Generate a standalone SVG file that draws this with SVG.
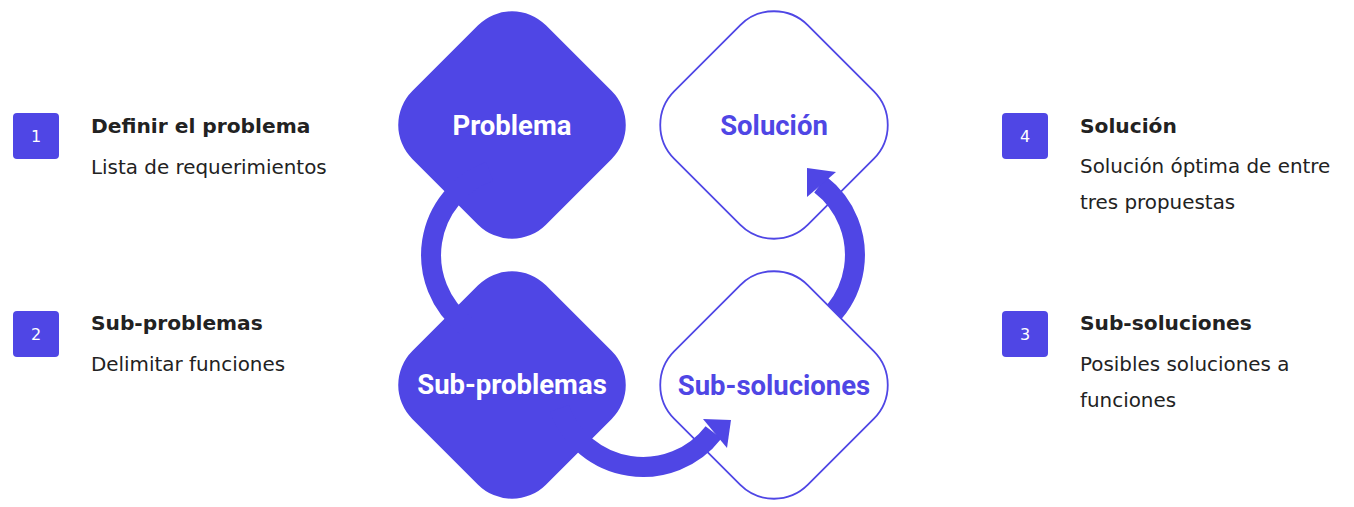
<svg xmlns="http://www.w3.org/2000/svg" width="1354" height="507" viewBox="0 0 1354 507">
  <style>
    .fill { fill: #4f46e5; }
    .outline { fill: #ffffff; stroke: #4f46e5; stroke-width: 1.8; }
    .lbl { font-family: Roboto, "Liberation Sans", sans-serif; font-weight: 700; font-size: 27.5px; text-anchor: middle; }
    .lbl-w { fill: #ffffff; }
    .lbl-b { fill: #4f46e5; }
    .num-box { fill: #4f46e5; }
    .num { font-family: "DejaVu Sans", Verdana, sans-serif; font-size: 16px; fill: #ffffff; text-anchor: middle; }
    .head { font-family: "DejaVu Sans", Verdana, sans-serif; font-weight: 700; font-size: 20.2px; fill: #222222; }
    .desc { font-family: "DejaVu Sans", Verdana, sans-serif; font-size: 19.9px; fill: #222222; }
    .arc { fill: none; stroke: #4f46e5; stroke-width: 20; }
    .head-arrow { fill: #4f46e5; }
  </style>
  <defs>
    <rect id="dshape" x="-94.5" y="-94.5" width="189" height="189" rx="48" ry="48"/>
    <mask id="maskSubSol" maskUnits="userSpaceOnUse" x="0" y="0" width="1354" height="507">
      <rect x="0" y="0" width="1354" height="507" fill="#ffffff"/>
      <use href="#dshape" transform="translate(774 385) rotate(45)" fill="#000000"/>
    </mask>
  </defs>
  <rect width="1354" height="507" fill="#ffffff"/>

  <g id="node-problema">
    <use href="#dshape" class="fill" transform="translate(512 125) rotate(45)"/>
    <text class="lbl lbl-w" x="512" y="135">Problema</text>
  </g>
  <g id="node-solucion">
    <use href="#dshape" class="outline" transform="translate(774 125) rotate(45)"/>
    <text class="lbl lbl-b" x="774" y="135">Solución</text>
  </g>
  <g id="node-subproblemas">
    <use href="#dshape" class="fill" transform="translate(512 385) rotate(45)"/>
    <text class="lbl lbl-w" x="512" y="394">Sub-problemas</text>
  </g>
  <g id="node-subsoluciones">
    <use href="#dshape" class="outline" transform="translate(774 385) rotate(45)"/>
    <text class="lbl lbl-b" x="774" y="395">Sub-soluciones</text>
  </g>

  <g id="connectors">
    <path class="arc" d="M 489.6 171.4 A 89 89 0 0 0 465.7 325.5"/>
    <path class="arc" d="M 559.4 408.4 A 89 89 0 0 0 713.5 432.3"/>
    <polygon class="head-arrow" points="731,420 703,419 727,448"/>
    <path class="arc" mask="url(#maskSubSol)" d="M 796.4 338.6 A 89 89 0 0 0 820.3 184.5"/>
    <polygon class="head-arrow" points="807,168 836,172 807,197"/>
  </g>

  <g id="step-1">
    <rect class="num-box" x="13" y="113" width="46" height="46" rx="4"/>
    <text class="num" x="36" y="142">1</text>
    <text class="head" x="91" y="133">Definir el problema</text>
    <text class="desc" x="91" y="174">Lista de requerimientos</text>
  </g>
  <g id="step-2">
    <rect class="num-box" x="13" y="311" width="46" height="46" rx="4"/>
    <text class="num" x="36" y="340">2</text>
    <text class="head" x="91" y="330">Sub-problemas</text>
    <text class="desc" x="91" y="371">Delimitar funciones</text>
  </g>
  <g id="step-4">
    <rect class="num-box" x="1002" y="113" width="46" height="46" rx="4"/>
    <text class="num" x="1025" y="142">4</text>
    <text class="head" x="1080" y="133">Solución</text>
    <text class="desc" x="1080" y="173">Solución óptima de entre</text>
    <text class="desc" x="1080" y="209">tres propuestas</text>
  </g>
  <g id="step-3">
    <rect class="num-box" x="1002" y="311" width="46" height="46" rx="4"/>
    <text class="num" x="1025" y="340">3</text>
    <text class="head" x="1080" y="330">Sub-soluciones</text>
    <text class="desc" x="1080" y="371">Posibles soluciones a</text>
    <text class="desc" x="1080" y="407">funciones</text>
  </g>
</svg>
